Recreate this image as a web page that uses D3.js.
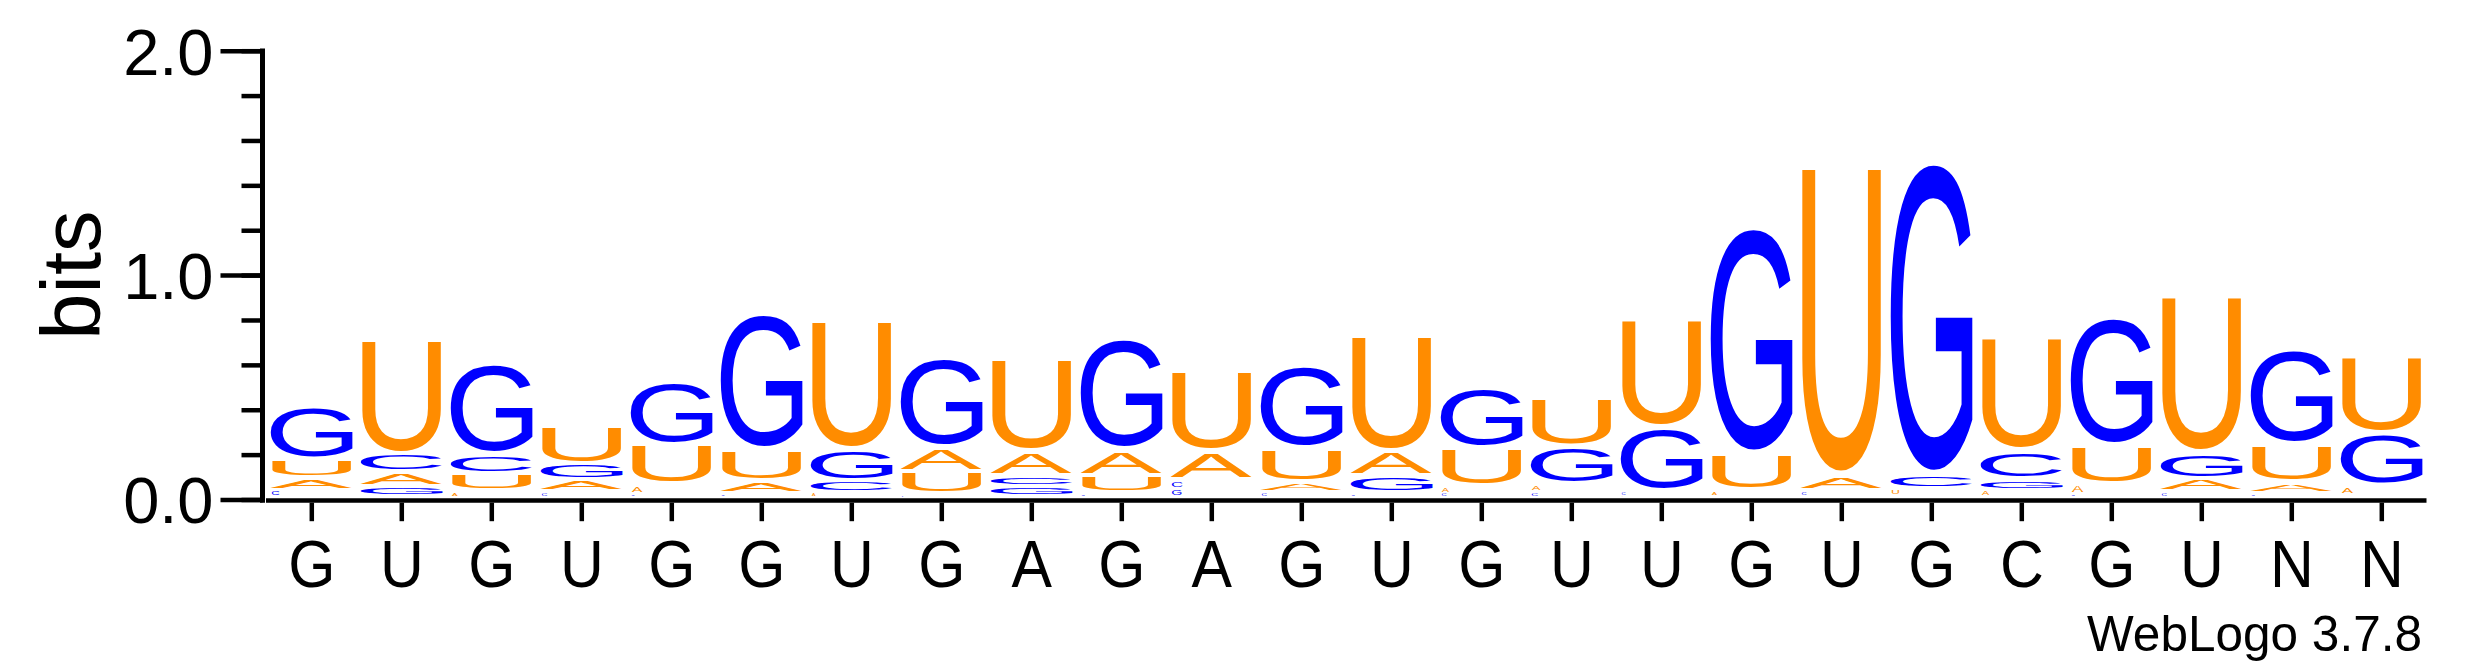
<!DOCTYPE html>
<html>
<head>
<meta charset="utf-8">
<script src="https://cdn.jsdelivr.net/npm/d3@7"></script>
<style>
  body { margin: 0; background: #fff; }
  svg { display: block; }
  text { font-family: "Liberation Sans", Arial, Helvetica, sans-serif; }
</style>
</head>
<body>
<script>
var width = 2475, height = 667;

// consensus labels under each column
var positions = ["G","U","G","U","G","G","U","G","A","G","A","G","U","G","U","U","G","U","G","C","G","U","N","N"];
var letters = ["A", "C", "G", "U"];

// letter heights in bits, one value per column
var bitsA = [0.052, 0.063, 0.019, 0.052, 0.037, 0.052, 0.012, 0.107, 0.107, 0.112, 0.127, 0.042,
             0.112, 0.025, 0.030, 0.004, 0.018, 0.068, 0.003, 0.024, 0.040, 0.057, 0.045, 0.039];
var bitsC = [0.024, 0.082, 0.085, 0.017, 0.009, 0.009, 0.052, 0.004, 0.045, 0.010, 0.037, 0.016,
             0.010, 0.015, 0.020, 0.013, 0.003, 0.016, 0.062, 0.122, 0.010, 0.016, 0.010, 0.003];
var bitsG = [0.238, 0.039, 0.405, 0.070, 0.279, 0.610, 0.138, 0.399, 0.040, 0.494, 0.030, 0.372,
             0.075, 0.271, 0.168, 0.281, 1.012, 0.003, 1.396, 0.049, 0.576, 0.115, 0.422, 0.235];
var bitsU = [0.082, 0.522, 0.076, 0.175, 0.179, 0.141, 0.585, 0.100, 0.417, 0.079, 0.367, 0.152,
             0.528, 0.171, 0.223, 0.488, 0.162, 1.399, 0.025, 0.516, 0.173, 0.707, 0.168, 0.348];

var yTicksMajor = [0, 1, 2];
var yTicksMinor = d3.range(0, 2.0001, 0.2);

var colours = {A: "#ff8c00", U: "#ff8c00", C: "#0000ff", G: "#0000ff"};

var svg = d3.select("body").append("svg")
    .attr("width", width)
    .attr("height", height);

svg.append("rect").attr("width", width).attr("height", height).attr("fill", "#fff");

var x = d3.scalePoint()
    .domain(d3.range(1, positions.length + 1))
    .range([311.3, 2381.3]);
var glyphW = 82;

var y = d3.scaleLinear().domain([0, 2]).range([499.5, 50.7]);
var base = 497; // stacks sit on top of the axis line
var pxPerBit = y(0) - y(1);

// measure the ink box of each glyph so it can be stretched into its cell
var ctx = document.createElement("canvas").getContext("2d");
var FS = 1000;
ctx.font = FS + "px 'Liberation Sans'";
var ink = {};
letters.forEach(ch => {
  var m = ctx.measureText(ch);
  ink[ch] = {
    left: m.actualBoundingBoxLeft,
    asc: m.actualBoundingBoxAscent,
    w: m.actualBoundingBoxLeft + m.actualBoundingBoxRight,
    h: m.actualBoundingBoxAscent + m.actualBoundingBoxDescent
  };
});

var table = {A: bitsA, C: bitsC, G: bitsG, U: bitsU};
var columns = positions.map((p, i) => {
  var stack = letters.map(ch => ({ch: ch, v: table[ch][i]}));
  stack = d3.sort(stack, d => d.v);  // smallest at the bottom
  var top = base;
  stack.forEach((d, k) => {
    d.y1 = top;
    d.y0 = top - d.v * pxPerBit;
    d.bottom = k === 0;
    top = d.y0;
  });
  return {pos: i + 1, stack: stack};
});

var logo = svg.append("g");
var col = logo.selectAll("g.col")
  .data(columns)
  .join("g")
    .attr("class", "col");

col.selectAll("text")
  .data(d => d.stack.map(s => Object.assign({pos: d.pos}, s)))
  .join("text")
    .attr("font-size", FS)
    .attr("fill", d => colours[d.ch])
    .attr("transform", d => {
      var box = d.y1 - d.y0;
      var gap = d.bottom ? Math.min(2.5, box * 0.3) : Math.min(4.5, box * 0.35);
      var h = Math.max(box - gap, 0.3);
      var w = glyphW;
      var left = x(d.pos) - glyphW / 2;
      if (h < 6) { w = h * 2; left += 1.5; }
      var g = ink[d.ch];
      return `translate(${left},${d.y0}) scale(${w / g.w},${h / g.h}) translate(${g.left},${g.asc})`;
    })
    .text(d => d.ch);

// y axis
var axisColor = "#000";
var yMinor = svg.append("g")
    .attr("transform", "translate(262.5,0)")
    .call(d3.axisLeft(y).tickValues(yTicksMinor).tickSize(21).tickFormat(""));
var yMajor = svg.append("g")
    .attr("transform", "translate(262.5,0)")
    .call(d3.axisLeft(y).tickValues(yTicksMajor).tickSize(42).tickPadding(7).tickFormat(d3.format(".1f")));
[yMinor, yMajor].forEach(g => {
  g.select(".domain").remove();
  g.selectAll("line").attr("stroke", axisColor).attr("stroke-width", 4.5);
});
yMajor.selectAll("text")
    .attr("font-size", 65)
    .attr("font-family", "'Liberation Sans', Arial, sans-serif")
    .attr("fill", "#000")
    .attr("dy", "0.36em");
svg.append("line")
    .attr("x1", 262.5).attr("x2", 262.5)
    .attr("y1", y(2) - 2.25).attr("y2", 502.8)
    .attr("stroke", axisColor).attr("stroke-width", 5);

svg.append("text")
    .attr("transform", "translate(100," + y(1) + ") rotate(-90)")
    .attr("text-anchor", "middle")
    .attr("font-size", 83)
    .text("bits");

// x axis
svg.append("line")
    .attr("x1", 266).attr("x2", 2426.5)
    .attr("y1", 500.6).attr("y2", 500.6)
    .attr("stroke", axisColor).attr("stroke-width", 4.5);
var xAxis = svg.append("g")
    .attr("transform", "translate(0,502.7)")
    .call(d3.axisBottom(x).tickSize(18.5).tickFormat(d => positions[d - 1]));
xAxis.select(".domain").remove();
xAxis.selectAll("line").attr("stroke", axisColor).attr("stroke-width", 4.5);
xAxis.selectAll("text")
    .attr("y", 0)
    .attr("dy", 0)
    .attr("transform", "translate(0," + (587.3 - 502.7) + ") scale(0.92,1)")
    .attr("font-size", 66)
    .attr("font-family", "'Liberation Sans', Arial, sans-serif")
    .attr("fill", "#000");

svg.append("text")
    .attr("x", 2422)
    .attr("y", 651)
    .attr("text-anchor", "end")
    .attr("font-size", 50)
    .attr("textLength", 335)
    .attr("lengthAdjust", "spacingAndGlyphs")
    .text("WebLogo 3.7.8");
</script>
</body>
</html>
